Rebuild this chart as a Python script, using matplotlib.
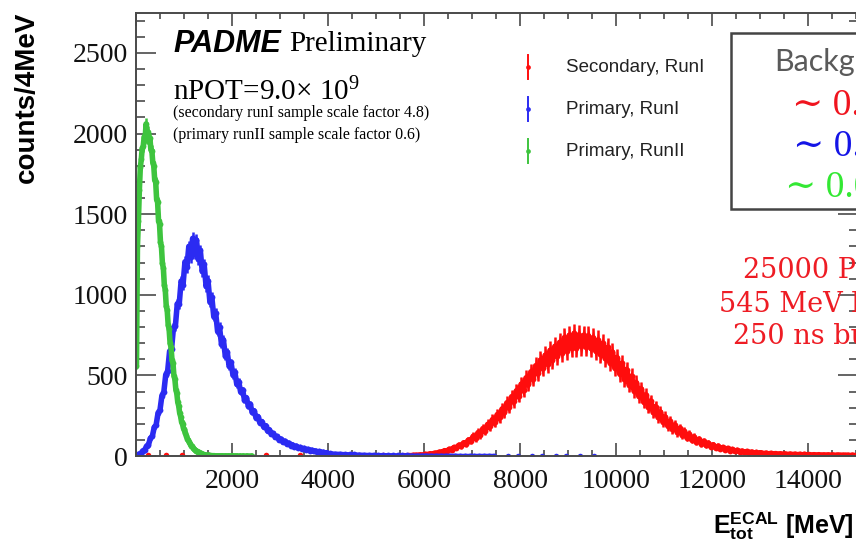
import numpy as np
import matplotlib
matplotlib.use('Agg')
import matplotlib.pyplot as plt
from matplotlib.ticker import MultipleLocator, FixedLocator
from matplotlib.patches import Rectangle
from matplotlib.lines import Line2D

# ---------------- data ----------------
# Secondary, RunI (scale factor 4.8): bin centres start/step in MeV
red_start, red_step = 5525, 50
red_counts = [1, 2, 1, 3, 2, 4, 5, 4, 7, 6, 10, 9, 14, 12, 18, 17, 25, 22, 33, 30,
              42, 40, 53, 50, 67, 62, 82, 77, 99, 96, 122, 112, 145, 133, 170, 158, 196, 185, 226, 210,
              257, 240, 292, 270, 330, 305, 368, 340, 405, 375, 446, 410, 485, 447, 522, 480, 560, 512, 595, 545,
              625, 570, 655, 596, 680, 618, 705, 640, 735, 650, 748, 668, 760, 672, 752, 680, 748, 676,
              745, 668, 735, 652, 720, 630, 700, 605, 675, 578, 645, 545, 610, 510, 575, 475, 535, 440, 495, 405,
              455, 370, 416, 335, 378, 302, 340, 270, 305, 240, 273, 212, 242, 188, 216, 166, 193, 147, 171, 130,
              152, 114, 135, 100, 119, 87, 104, 76, 91, 66, 80, 57, 70, 50, 61, 44, 53, 38, 47, 33,
              41, 29, 36, 26, 31, 23, 28, 20, 25, 18, 22, 16, 20, 14, 18, 13, 16, 12, 15, 11,
              14, 10, 13, 9, 12, 9, 11, 8, 10, 7, 10, 7, 9, 6, 8, 6, 8, 5, 7, 5,
              7, 5, 6, 4, 6, 4, 5, 4, 5, 3, 5, 3]
red_low_E = [250, 620, 960, 1520, 2700, 3420, 4050, 4650, 5150]
red_low_counts = [4.8, 4.8, 4.8, 4.8, 4.8, 4.8, 4.8, 4.8, 4.8]
red_scale = 4.8

# Primary, RunI (scale factor 1)
blue_start, blue_step = 20, 40
blue_counts = [4, 12, 15, 32, 36, 62, 70, 110, 122, 178, 194, 268, 286, 375, 398, 505, 528, 650, 662, 795,
               805, 945, 942, 1085, 1062, 1205, 1170, 1300, 1235, 1350, 1255, 1340, 1220, 1275, 1145, 1188, 1052, 1088, 955, 985,
               865, 888, 772, 800, 695, 722, 622, 645, 558, 580, 502, 520, 444, 462, 396, 410, 348, 362, 309, 321,
               271, 280, 237, 245, 206, 214, 180, 188, 155, 163, 134, 141, 116, 122, 99, 106, 86, 93, 75, 81,
               65, 70, 56, 62, 49, 54, 43, 48, 37, 42, 33, 37, 28, 32, 24, 28, 21, 24, 18, 21]
# continuous low tail
blue_tail_start, blue_tail_step = 4050, 100
blue_tail_counts = [17, 15, 14, 12, 11, 10, 9, 8, 7, 7, 6, 6, 5, 5, 4, 4, 4, 3, 3, 3,
                    3, 2, 2, 2, 2, 2, 2, 1, 1, 1, 1, 1, 1, 1, 1]
# isolated far bins
blue_far_E = [7750, 7950, 8250, 8450, 8750, 8950, 9250, 9550]
blue_far_counts = [1, 1, 1, 1, 1, 1, 1, 1]
blue_scale = 1.0

# Primary, RunII (scale factor 0.6)
green_start, green_step = 10, 20
green_counts = [560, 1300, 1460, 1650, 1790, 1840, 1910, 1920, 1980, 1970, 2060, 1990, 2010, 1950, 1970, 1900, 1895, 1820, 1800, 1710,
                1700, 1590, 1575, 1455, 1440, 1325, 1300, 1195, 1165, 1060, 1030, 930, 905, 815, 785, 700, 675, 595, 575, 498,
                476, 412, 388, 334, 310, 266, 245, 209, 196, 170, 162, 140, 127, 108, 99, 85, 77, 65, 59, 51,
                42, 38, 31, 29, 23, 22, 17, 16, 12, 11, 9, 8, 7, 6, 5, 4, 4, 3, 3, 2,
                2, 2, 1, 1, 1, 1, 1, 1, 1, 1, 1, 0, 1, 1, 0, 1, 1, 0, 1, 0,
                1, 1, 0, 1, 0, 1, 0, 0, 1, 0, 0, 1, 0, 0, 0, 1, 0, 0, 0, 0, 1]
green_scale = 0.6

legend_labels = ['Secondary, RunI', 'Primary, RunI', 'Primary, RunII']
x_ticks = [2000, 4000, 6000, 8000, 10000, 12000, 14000]
y_ticks = [0, 500, 1000, 1500, 2000, 2500]

RED = '#ff0d0d'
BLUE = '#2b2bf2'
GREEN = '#3ec43e'
FRAME = '#4a4a4a'

# ---------------- figure ----------------
plt.rcParams['mathtext.fontset'] = 'custom'
plt.rcParams['mathtext.rm'] = 'Liberation Serif'
plt.rcParams['mathtext.it'] = 'Liberation Serif:italic'
plt.rcParams['mathtext.bf'] = 'Liberation Sans:bold'

W, H = 856, 546
fig = plt.figure(figsize=(W / 100, H / 100), dpi=100)
fig.patch.set_facecolor('white')


def fx(x):
    return x / W


def fy(y):
    return 1 - y / H


ax = fig.add_axes([fx(136), fy(456), (857.5 - 136) / W, (456 - 13) / H])
ax.set_xlim(0, 15030)
ax.set_ylim(0, 2748)


def draw_band(E, c, scale, color, z, lw=4.0):
    """Dense histogram drawn as a band: +-error envelope, joined bin values, and error-bar points."""
    E = np.asarray(E, float)
    c = np.asarray(c, float)
    err = np.sqrt(c * scale)
    ax.fill_between(E, c - err, c + err, color=color, lw=0, zorder=z)
    ax.plot(E, c, color=color, lw=lw, solid_joinstyle='round', solid_capstyle='round', zorder=z)
    m = c > 0
    ax.errorbar(E[m], c[m], yerr=err[m], fmt='o', color=color, ms=4.2, mew=0,
                elinewidth=1.8, capsize=0, zorder=z)


def draw_points(E, c, scale, color, z):
    E = np.asarray(E, float)
    c = np.asarray(c, float)
    m = c > 0
    err = np.sqrt(c[m] * scale)
    ax.errorbar(E[m], c[m], yerr=err, fmt='o', color=color, ms=4.0, mew=0,
                elinewidth=1.6, capsize=0, zorder=z)


red_E = red_start + red_step * np.arange(len(red_counts))
blue_E = blue_start + blue_step * np.arange(len(blue_counts))
blue_tail_E = blue_tail_start + blue_tail_step * np.arange(len(blue_tail_counts))
green_E = green_start + green_step * np.arange(len(green_counts))

draw_band(red_E, red_counts, red_scale, RED, 3)
draw_points(red_low_E, red_low_counts, red_scale, RED, 3)
draw_band(blue_E, blue_counts, blue_scale, BLUE, 4)
draw_band(blue_tail_E, blue_tail_counts, blue_scale, BLUE, 4, lw=3.0)
draw_points(blue_far_E, blue_far_counts, blue_scale, BLUE, 4)
draw_band(green_E, green_counts, green_scale, GREEN, 5)

# axes styling (ROOT-like)
for s in ax.spines.values():
    s.set_color(FRAME)
    s.set_linewidth(1.4)
    s.set_zorder(10)
ax.xaxis.set_major_locator(FixedLocator([0] + x_ticks))
ax.xaxis.set_minor_locator(MultipleLocator(500))
ax.yaxis.set_major_locator(FixedLocator(y_ticks))
ax.yaxis.set_minor_locator(MultipleLocator(100))
ax.set_xticklabels([''] + [str(v) for v in x_ticks])
ax.set_yticklabels([str(v) for v in y_ticks])
ax.tick_params(axis='both', which='both', direction='in', top=True, right=True, color=FRAME, width=1.2)
ax.tick_params(axis='x', which='major', length=9.5, pad=9)
ax.tick_params(axis='x', which='minor', length=4.5)
ax.tick_params(axis='y', which='major', length=14.5, pad=6)
ax.tick_params(axis='y', which='minor', length=6.5)
for lab in ax.get_xticklabels() + ax.get_yticklabels():
    lab.set_fontfamily('Liberation Serif')
    lab.set_fontsize(20)
    lab.set_color('#111111')

# axis titles
fig.text(fx(27), fy(12), 'counts/4MeV', rotation=90, ha='center', va='top',
         fontsize=20, fontweight='bold', family='Liberation Sans')
fig.text(fx(854), fy(526), r'$\mathbf{E}^{\mathbf{ECAL}}_{\mathbf{tot}}$ [MeV]', ha='right', va='center',
         fontsize=18, fontweight='bold', family='Liberation Sans')

# header texts
fig.text(fx(173), fy(44), 'PADME', ha='left', va='center', fontsize=22, fontweight='bold',
         style='italic', family='Liberation Sans')
fig.text(fx(289), fy(44), 'Preliminary', ha='left', va='center', fontsize=21, family='Liberation Serif')
fig.text(fx(173), fy(92), r'nPOT=9.0× 10$^{9}$', ha='left', va='center', fontsize=21, family='Liberation Serif')
fig.text(fx(173), fy(113), '(secondary runI sample scale factor 4.8)', ha='left', va='center',
         fontsize=11.5, family='Liberation Serif')
fig.text(fx(173), fy(135), '(primary runII sample scale factor 0.6)', ha='left', va='center',
         fontsize=11.5, family='Liberation Serif')

# legend (manual)
for lab, col, yy in zip(legend_labels, [RED, BLUE, GREEN], [67, 109, 151]):
    fig.add_artist(Line2D([fx(528), fx(528)], [fy(yy - 12), fy(yy + 12)], color=col, lw=1.4,
                          transform=fig.transFigure))
    fig.add_artist(Line2D([fx(528)], [fy(yy)], color=col, marker='o', ms=3.4, mew=0, ls='none',
                          transform=fig.transFigure))
    fig.text(fx(566), fy(yy), lab, ha='left', va='center', fontsize=13.5, family='Liberation Sans',
             color='#222222')

# background box (cropped at the right edge, as in the reference)
fig.add_artist(Rectangle((fx(731), fy(209)), fx(1100) - fx(731), fy(33) - fy(209),
                         transform=fig.transFigure, facecolor='white', edgecolor='#444444', lw=1.8))
fig.text(fx(774), fy(62), 'Background', ha='left', va='center', fontsize=22, family='Lato', color='#5a5a5a')
fig.text(fx(792), fy(106), '∼ 0.5%', ha='left', va='center', fontsize=27,
         family=['Liberation Serif', 'DejaVu Serif'], color='#f0141e')
fig.text(fx(793), fy(147), '∼ 0.4%', ha='left', va='center', fontsize=27,
         family=['Liberation Serif', 'DejaVu Serif'], color='#1414e6')
fig.text(fx(785), fy(188), '∼ 0.05%', ha='left', va='center', fontsize=27,
         family=['Liberation Serif', 'DejaVu Serif'], color='#33e833')

# beam conditions text (cropped at the right edge, as in the reference)
fig.text(fx(743), fy(270), '25000 POT/bunch', ha='left', va='center', fontsize=19.5,
         family='DejaVu Serif', color='#ee1c24')
fig.text(fx(719), fy(304), '545 MeV beam', ha='left', va='center', fontsize=19.5,
         family='DejaVu Serif', color='#ee1c24')
fig.text(fx(733), fy(336), '250 ns bunch', ha='left', va='center', fontsize=19.5,
         family='DejaVu Serif', color='#ee1c24')

fig.savefig('out.png', dpi=100)
